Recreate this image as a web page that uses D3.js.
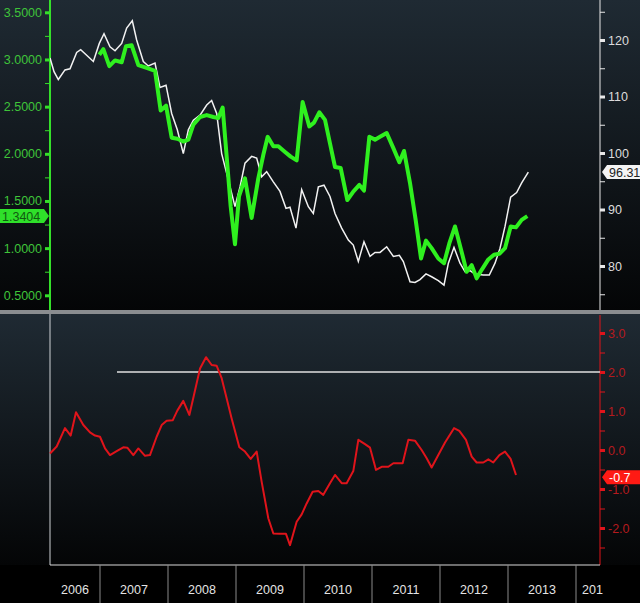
<!DOCTYPE html>
<html>
<head>
<meta charset="utf-8">
<script src="https://cdn.jsdelivr.net/npm/d3@7"></script>
<style>
  body { margin: 0; background: #000; }
  text { font-family: "Liberation Sans", Arial, sans-serif; }
</style>
</head>
<body>
<svg width="640" height="603"></svg>
<script>
// white line (right axis), [decimal year, value]
const whiteSeries = [
  [2006.265,116.8],[2006.324,114.4],[2006.387,113.0],[2006.485,114.7],[2006.559,114.9],[2006.657,117.8],
  [2006.716,118.3],[2006.804,117.3],[2006.902,116.2],[2006.990,119.4],[2007.059,121.1],[2007.147,118.8],
  [2007.221,118.1],[2007.319,119.4],[2007.392,122.1],[2007.475,123.4],[2007.539,120.0],[2007.637,116.2],
  [2007.711,115.4],[2007.809,115.9],[2007.882,111.6],[2007.971,112.0],[2008.054,107.0],[2008.137,104.1],
  [2008.225,99.9],[2008.299,104.1],[2008.373,105.8],[2008.471,106.7],[2008.569,108.5],[2008.642,109.3],
  [2008.716,107.0],[2008.789,99.9],[2008.863,96.4],[2008.936,92.9],[2008.985,90.5],[2009.059,94.0],
  [2009.132,98.2],[2009.230,99.4],[2009.304,99.1],[2009.377,95.8],[2009.451,96.7],[2009.549,94.9],
  [2009.647,93.2],[2009.735,90.2],[2009.794,90.4],[2009.882,86.7],[2009.966,93.5],[2010.064,90.5],
  [2010.137,89.3],[2010.211,94.0],[2010.294,94.3],[2010.382,92.3],[2010.456,89.3],[2010.554,86.7],
  [2010.652,84.6],[2010.725,83.7],[2010.799,80.8],[2010.882,84.3],[2010.971,81.7],[2011.044,82.4],
  [2011.118,82.4],[2011.216,83.4],[2011.314,81.7],[2011.402,81.9],[2011.461,80.8],[2011.559,77.2],
  [2011.632,77.1],[2011.706,77.6],[2011.794,78.6],[2011.877,78.1],[2011.975,77.4],[2012.059,76.6],
  [2012.123,80.5],[2012.206,83.3],[2012.294,80.5],[2012.368,79.0],[2012.441,79.2],[2012.515,78.6],
  [2012.637,78.4],[2012.725,78.4],[2012.809,80.5],[2012.882,83.1],[2012.956,87.0],[2013.039,92.2],
  [2013.127,93.0],[2013.201,94.7],[2013.299,96.6]
];

// green line (left axis)
const greenSeries = [
  [2006.990,3.05],[2007.049,3.11],[2007.137,2.93],[2007.221,2.99],[2007.319,2.97],[2007.382,3.14],
  [2007.466,3.15],[2007.564,2.94],[2007.686,2.91],[2007.809,2.88],[2007.892,2.46],[2007.971,2.51],
  [2008.054,2.17],[2008.137,2.16],[2008.225,2.13],[2008.299,2.15],[2008.373,2.31],[2008.471,2.39],
  [2008.569,2.41],[2008.667,2.39],[2008.740,2.38],[2008.804,2.49],[2008.863,1.97],[2008.922,1.44],
  [2008.985,1.04],[2009.044,1.55],[2009.132,1.74],[2009.230,1.32],[2009.328,1.74],[2009.402,1.99],
  [2009.466,2.18],[2009.549,2.08],[2009.623,2.08],[2009.721,2.02],[2009.804,1.97],[2009.892,1.93],
  [2009.980,2.55],[2010.078,2.29],[2010.147,2.33],[2010.225,2.44],[2010.309,2.36],[2010.382,2.11],
  [2010.456,1.86],[2010.539,1.85],[2010.637,1.51],[2010.725,1.60],[2010.814,1.67],[2010.882,1.61],
  [2010.961,2.18],[2011.044,2.15],[2011.118,2.18],[2011.216,2.22],[2011.314,2.06],[2011.402,1.91],
  [2011.471,2.03],[2011.559,1.69],[2011.642,1.30],[2011.721,0.89],[2011.794,1.08],[2011.877,1.00],
  [2011.975,0.89],[2012.059,0.84],[2012.137,1.05],[2012.221,1.23],[2012.304,1.00],[2012.392,0.75],
  [2012.466,0.82],[2012.539,0.68],[2012.613,0.77],[2012.711,0.88],[2012.794,0.93],[2012.873,0.94],
  [2012.956,1.00],[2013.039,1.23],[2013.118,1.22],[2013.201,1.30],[2013.284,1.34]
];

// red line (lower panel)
const redSeries = [
  [2006.265,-0.09],[2006.363,0.09],[2006.485,0.56],[2006.569,0.37],[2006.647,0.97],[2006.755,0.64],
  [2006.853,0.45],[2006.926,0.37],[2007.000,0.34],[2007.074,0.04],[2007.147,-0.13],[2007.245,-0.03],
  [2007.343,0.07],[2007.402,0.06],[2007.490,-0.13],[2007.564,0.04],[2007.662,-0.15],[2007.735,-0.13],
  [2007.833,0.34],[2007.907,0.64],[2007.980,0.75],[2008.069,0.76],[2008.137,1.01],[2008.225,1.26],
  [2008.314,0.90],[2008.382,1.41],[2008.471,2.09],[2008.559,2.38],[2008.642,2.18],[2008.716,2.16],
  [2008.789,1.84],[2008.863,1.32],[2008.936,0.81],[2009.049,0.07],[2009.132,-0.04],[2009.216,-0.23],
  [2009.304,-0.04],[2009.377,-0.81],[2009.475,-1.75],[2009.549,-2.14],[2009.647,-2.15],[2009.735,-2.15],
  [2009.794,-2.44],[2009.892,-1.84],[2009.966,-1.65],[2010.039,-1.37],[2010.127,-1.07],[2010.211,-1.05],
  [2010.284,-1.15],[2010.382,-0.85],[2010.456,-0.64],[2010.554,-0.85],[2010.627,-0.85],[2010.725,-0.54],
  [2010.799,0.26],[2010.897,0.15],[2010.971,0.06],[2011.059,-0.51],[2011.142,-0.43],[2011.240,-0.43],
  [2011.314,-0.34],[2011.451,-0.34],[2011.534,0.26],[2011.632,0.24],[2011.730,0.00],[2011.804,-0.21],
  [2011.877,-0.45],[2011.975,-0.13],[2012.074,0.19],[2012.206,0.56],[2012.284,0.49],[2012.382,0.26],
  [2012.466,-0.17],[2012.539,-0.32],[2012.637,-0.32],[2012.711,-0.24],[2012.784,-0.32],[2012.873,-0.13],
  [2012.956,-0.04],[2013.039,-0.23],[2013.118,-0.64]
];

const years = [2006, 2007, 2008, 2009, 2010, 2011, 2012, 2013, 2014];
const yearLabels = ["2006", "2007", "2008", "2009", "2010", "2011", "2012", "2013", "201"];
const leftTicks = [0.5, 1.0, 1.5, 2.0, 2.5, 3.0, 3.5];
const rightTicks = [80, 90, 100, 110, 120];
const redTicks = [-2.0, -1.0, 0.0, 1.0, 2.0, 3.0];
const threshold = { from: 2007.25, value: 2.0 };
const lastGreen = "1.3404", lastWhite = "96.31", lastRed = "-0.7";

const svg = d3.select("svg");
const L = 50, R = 600;

const x = d3.scaleLinear().domain([2006, 2014]).range([32, 576]);
const yL = d3.scaleLinear().domain([0.5, 3.5]).range([295.3, 12.3]);
const yR = d3.scaleLinear().domain([80, 120]).range([266, 40]);
const yB = d3.scaleLinear().domain([0, 3]).range([450, 333]);

// backgrounds
const defs = svg.append("defs");
const grad = defs.append("linearGradient").attr("id", "bg").attr("x1", 0).attr("y1", 0).attr("x2", 0).attr("y2", 1);
grad.append("stop").attr("offset", "0%").attr("stop-color", "#1f2a33");
grad.append("stop").attr("offset", "100%").attr("stop-color", "#040506");
svg.append("rect").attr("width", 640).attr("height", 603).attr("fill", "#000");
svg.append("rect").attr("x", 0).attr("y", 0).attr("width", 640).attr("height", 311).attr("fill", "url(#bg)");
svg.append("rect").attr("x", 0).attr("y", 314).attr("width", 640).attr("height", 251).attr("fill", "url(#bg)");
svg.append("rect").attr("x", 0).attr("y", 310).attr("width", 640).attr("height", 4).attr("fill", "#8a8d90");

// top clip
defs.append("clipPath").attr("id", "clipTop").append("rect").attr("x", L).attr("y", 0).attr("width", R - L).attr("height", 310);

// left axis (green)
const green = "#35e02a";
svg.append("g").attr("transform", `translate(${L},0)`)
  .call(d3.axisLeft(yL).tickValues(d3.range(0.5, 3.51, 0.25)).tickSize(5).tickFormat(d => leftTicks.includes(d) ? d3.format(".4f")(d) : ""))
  .call(g => g.select(".domain").attr("stroke", green).attr("stroke-width", 2).attr("d", "M0,0V310"))
  .call(g => g.selectAll(".tick line").attr("stroke", green).attr("stroke-width", d => leftTicks.includes(d) ? 3 : 1))
  .call(g => g.selectAll(".tick text").attr("fill", "#3fc43a").attr("font-size", 12.5).attr("x", -8));

// right axis (white)
svg.append("g").attr("transform", `translate(${R},0)`)
  .call(d3.axisRight(yR).tickValues(d3.range(75, 126, 5)).tickSize(5).tickFormat(d => rightTicks.includes(d) ? d : ""))
  .call(g => g.select(".domain").attr("stroke", "#e8e8e8").attr("d", "M0,0V310"))
  .call(g => g.selectAll(".tick line").attr("stroke", "#e8e8e8").attr("stroke-width", d => rightTicks.includes(d) ? 3 : 1))
  .call(g => g.selectAll(".tick text").attr("fill", "#dcdcdc").attr("font-size", 12.5).attr("x", 8));

// lower axis (red)
const red = "#e0141b";
svg.append("g").attr("transform", `translate(${R},0)`)
  .call(d3.axisRight(yB).tickValues(d3.range(-2.5, 3.01, 0.5)).tickSize(5).tickFormat(d => redTicks.includes(d) ? d3.format(".1f")(d).replace("−", "-") : ""))
  .call(g => g.select(".domain").attr("stroke", red).attr("d", "M0,315V565"))
  .call(g => g.selectAll(".tick line").attr("stroke", red).attr("stroke-width", d => redTicks.includes(d) ? 3 : 1))
  .call(g => g.selectAll(".tick text").attr("fill", "#b51a1e").attr("font-size", 12.5).attr("x", 8));

svg.append("line").attr("x1", L).attr("x2", L).attr("y1", 314).attr("y2", 565).attr("stroke", "#cfd3d6");

// time axis
svg.append("line").attr("x1", L).attr("x2", R).attr("y1", 565).attr("y2", 565).attr("stroke", "#d8d8d8");
svg.selectAll(".ysep").data(years.slice(1)).join("line")
  .attr("x1", d => x(d)).attr("x2", d => x(d)).attr("y1", 565).attr("y2", 603)
  .attr("stroke", "#8a8a8a");
svg.selectAll(".ylab").data(years.slice(0, -1)).join("text")
  .attr("x", (d, i) => i === 0 ? (L + x(d + 1)) / 2 : x(d + 0.5))
  .attr("y", 594).attr("text-anchor", "middle").attr("fill", "#e4e4e4").attr("font-size", 12.5)
  .text((d, i) => yearLabels[i]);
svg.append("text").attr("x", x(2014) + 6).attr("y", 594).attr("fill", "#e4e4e4").attr("font-size", 12.5).text(yearLabels[8]);

// threshold line
svg.append("line").attr("x1", x(threshold.from)).attr("x2", R).attr("y1", yB(threshold.value)).attr("y2", yB(threshold.value))
  .attr("stroke", "#e0e0e0").attr("stroke-width", 1.3);

// series
const topPanel = svg.append("g").attr("clip-path", "url(#clipTop)");
topPanel.append("path").datum(whiteSeries)
  .attr("d", d3.line().x(d => x(d[0])).y(d => yR(d[1])))
  .attr("fill", "none").attr("stroke", "#f2f2f2").attr("stroke-width", 1.5);
topPanel.append("path").datum(greenSeries)
  .attr("d", d3.line().x(d => x(d[0])).y(d => yL(d[1])))
  .attr("fill", "none").attr("stroke", "#2ff01f").attr("stroke-width", 4).attr("stroke-linejoin", "round");
svg.append("path").datum(redSeries)
  .attr("d", d3.line().x(d => x(d[0])).y(d => yB(d[1])))
  .attr("fill", "none").attr("stroke", red).attr("stroke-width", 2).attr("stroke-linejoin", "round");

// last value tags
function tag(xEdge, y, w, dir, bg, fg, txt) {
  const h = 14, a = 5;
  const g = svg.append("g");
  const p = dir === "right"
    ? `M${xEdge - w - a},${y - h / 2}H${xEdge - a}L${xEdge},${y}L${xEdge - a},${y + h / 2}H${xEdge - w - a}Z`
    : `M${xEdge + w + a},${y - h / 2}H${xEdge + a}L${xEdge},${y}L${xEdge + a},${y + h / 2}H${xEdge + w + a}Z`;
  g.append("path").attr("d", p).attr("fill", bg);
  g.append("text").attr("x", dir === "right" ? xEdge - a - w + 2 : xEdge + a + 2).attr("y", y + 4.5)
    .attr("fill", fg).attr("font-size", 12.5).text(txt);
}
tag(L - 1, yL(+lastGreen), 44, "right", "#2fe02a", "#0f5a10", lastGreen);
tag(R + 2, 172, 40, "left", "#f4f4f4", "#222", lastWhite);
tag(R + 2, yB(+lastRed), 40, "left", "#ff1a14", "#fff", lastRed);
</script>
</body>
</html>
